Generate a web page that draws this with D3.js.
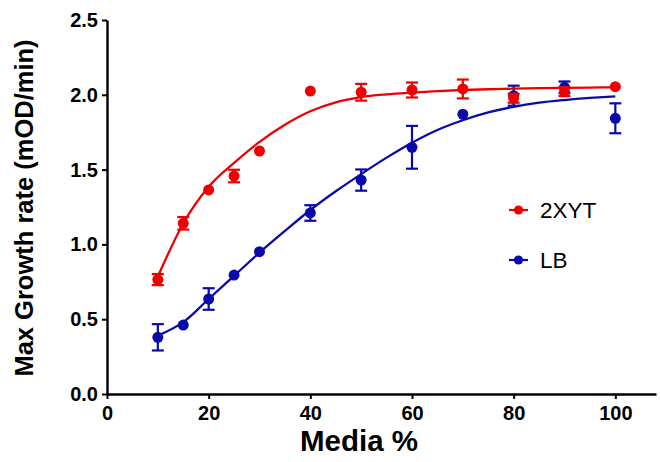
<!DOCTYPE html>
<html>
<head>
<meta charset="utf-8">
<script src="https://cdn.jsdelivr.net/npm/d3@7/dist/d3.min.js"></script>
<style>
  html, body { margin: 0; padding: 0; background: #fff; }
  svg { display: block; font-family: "Liberation Sans", Arial, sans-serif; }
</style>
</head>
<body>
<svg id="chart" width="660" height="462"></svg>
<script>
// Media concentrations (%)
const mediaPct = [10, 15, 20, 25, 30, 40, 50, 60, 70, 80, 90, 100];

// Measured max growth rate (mOD/min), mean and error
const xytMean = [0.765, 1.141, 1.364, 1.457, 1.624, 2.025, 2.017, 2.032, 2.039, 1.977, 2.021, 2.054];
const xytErr  = [0.037, 0.042, 0.000, 0.042, 0.000, 0.000, 0.056, 0.050, 0.063, 0.030, 0.030, 0.000];
const lbMean  = [0.379, 0.461, 0.635, 0.795, 0.951, 1.210, 1.430, 1.649, 1.870, 1.994, 2.050, 1.843];
const lbErr   = [0.088, 0.000, 0.072, 0.000, 0.000, 0.052, 0.071, 0.143, 0.000, 0.067, 0.039, 0.100];

// Fitted curves, sampled along x
const fitX   = [10, 15, 20, 25, 30, 35, 40, 45, 50, 55, 60, 65, 70, 75, 80, 85, 90, 95, 100];
const xytFit = [0.785, 1.140, 1.385, 1.545, 1.685, 1.800, 1.890, 1.950, 1.985, 2.003, 2.015, 2.025, 2.032, 2.037, 2.041, 2.044, 2.046, 2.048, 2.050];
const lbFit  = [0.390, 0.480, 0.635, 0.790, 0.945, 1.090, 1.230, 1.355, 1.470, 1.580, 1.680, 1.765, 1.830, 1.882, 1.920, 1.947, 1.965, 1.979, 1.990];

// Axis ticks
const xTicks = [0, 20, 40, 60, 80, 100];
const yTicks = [0, 0.5, 1.0, 1.5, 2.0, 2.5];

const series = [
  { name: "LB",   color: "#0a0aaa", mean: lbMean,  err: lbErr,  fit: lbFit,  legendY: 260 },
  { name: "2XYT", color: "#ee0000", mean: xytMean, err: xytErr, fit: xytFit, legendY: 210 }
];

const svg = d3.select("#chart");

const x = d3.scaleLinear().domain([0, 108]).range([107, 656]);
const y = d3.scaleLinear().domain([0, 2.5]).range([394, 20]);

// Axes
const xAxis = svg.append("g")
  .attr("transform", `translate(0,${y(0)})`)
  .call(d3.axisBottom(x).tickValues(xTicks).tickFormat(d3.format("d")).tickSize(5).tickPadding(7).tickSizeOuter(0));
const yAxis = svg.append("g")
  .attr("transform", `translate(${x(0)},0)`)
  .call(d3.axisLeft(y).tickValues(yTicks).tickFormat(d3.format(".1f")).tickSize(5).tickPadding(4).tickSizeOuter(0));

[xAxis, yAxis].forEach(g => {
  g.select(".domain").attr("stroke", "#000").attr("stroke-width", 2.4);
  g.selectAll(".tick line").attr("stroke", "#000").attr("stroke-width", 2);
  g.selectAll(".tick text")
    .attr("fill", "#000")
    .style("font-family", '"Liberation Sans", Arial, sans-serif')
    .style("font-size", "20px")
    .style("font-weight", "bold");
});

// Axis titles
svg.append("text")
  .attr("x", 359).attr("y", 451)
  .attr("text-anchor", "middle")
  .style("font-size", "29.5px").style("font-weight", "bold")
  .text("Media %");

svg.append("text")
  .attr("transform", "translate(33,208) rotate(-90)")
  .attr("text-anchor", "middle")
  .style("font-size", "25.5px").style("font-weight", "bold")
  .text("Max Growth rate (mOD/min)");

const line = d3.line()
  .x((d, i) => x(fitX[i]))
  .y(d => y(d))
  .curve(d3.curveMonotoneX);

// Curves, error bars and points per series
series.forEach(s => {
  const g = svg.append("g");

  g.append("path")
    .datum(s.fit)
    .attr("d", line)
    .attr("fill", "none")
    .attr("stroke", s.color)
    .attr("stroke-width", 2.3);

  const pts = mediaPct.map((m, i) => ({ m, v: s.mean[i], e: s.err[i] }));
  const eb = g.selectAll(".eb").data(pts.filter(d => d.e > 0)).enter().append("g")
    .attr("stroke", s.color).attr("stroke-width", 2.2);
  eb.append("line")
    .attr("x1", d => x(d.m)).attr("x2", d => x(d.m))
    .attr("y1", d => y(d.v - d.e)).attr("y2", d => y(d.v + d.e));
  eb.append("line")
    .attr("x1", d => x(d.m) - 6).attr("x2", d => x(d.m) + 6)
    .attr("y1", d => y(d.v + d.e)).attr("y2", d => y(d.v + d.e));
  eb.append("line")
    .attr("x1", d => x(d.m) - 6).attr("x2", d => x(d.m) + 6)
    .attr("y1", d => y(d.v - d.e)).attr("y2", d => y(d.v - d.e));

  g.selectAll("circle").data(pts).enter().append("circle")
    .attr("cx", d => x(d.m)).attr("cy", d => y(d.v))
    .attr("r", 5.5)
    .attr("fill", s.color);

  // Legend entry
  const lg = svg.append("g");
  lg.append("line")
    .attr("x1", 509).attr("x2", 528)
    .attr("y1", s.legendY).attr("y2", s.legendY)
    .attr("stroke", s.color).attr("stroke-width", 2.2);
  lg.append("circle")
    .attr("cx", 518.5).attr("cy", s.legendY).attr("r", 4.6)
    .attr("fill", s.color);
  lg.append("text")
    .attr("x", 540).attr("y", s.legendY + 8)
    .style("font-size", "22.5px")
    .text(s.name);
});
</script>
</body>
</html>
